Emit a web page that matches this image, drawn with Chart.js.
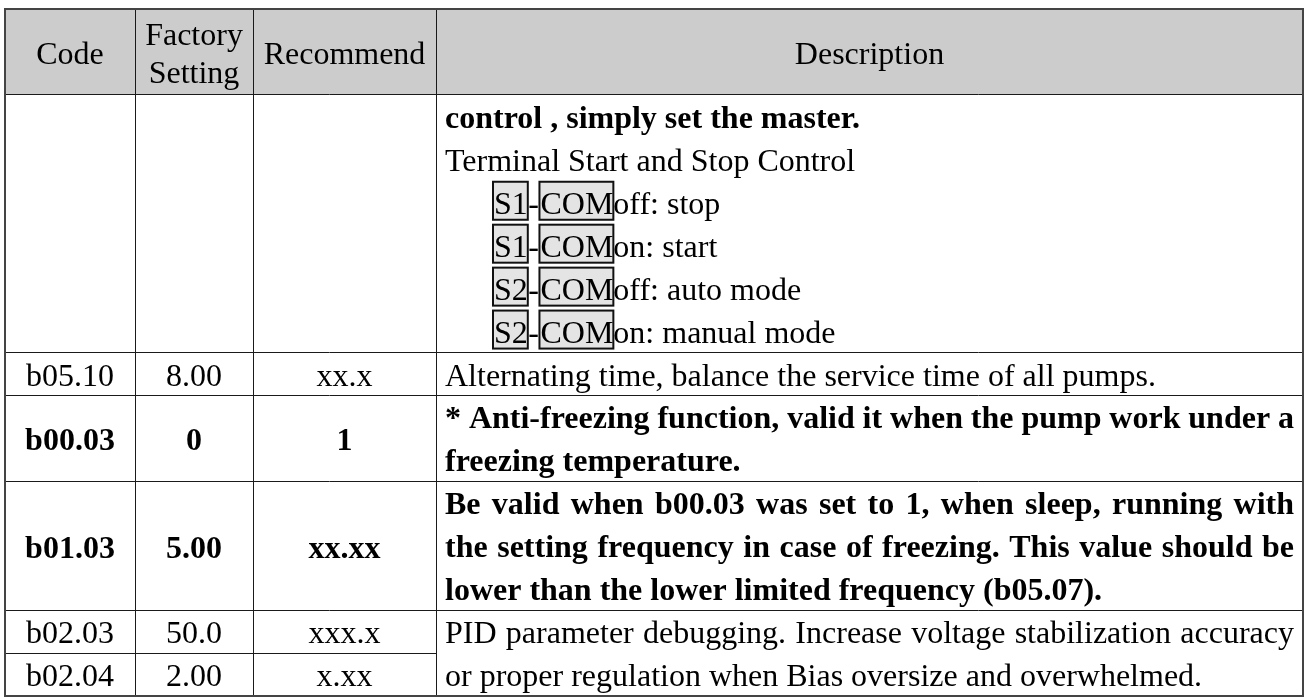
<!DOCTYPE html>
<html>
<head>
<meta charset="utf-8">
<title>Parameter table</title>
<script src="https://cdn.jsdelivr.net/npm/chart.js@4.4.1/dist/chart.umd.min.js"></script>
<style>
  body { margin: 0; background: #fff; }
  #wrap { width: 1307px; height: 697px; }
</style>
</head>
<body>
<div id="wrap"><canvas id="paramTable"></canvas></div>
<script>
// table content
const headers = ['Code', 'Factory\nSetting', 'Recommend', 'Description'];
const codes = ['', 'b05.10', 'b00.03', 'b01.03', 'b02.03', 'b02.04'];
const factorySettings = ['', '8.00', '0', '5.00', '50.0', '2.00'];
const recommends = ['', 'xx.x', '1', 'xx.xx', 'xxx.x', 'x.xx'];
const boldRows = [false, false, true, true, false, false];
const rowLines = [6, 1, 2, 3, 1, 1];
const headerLines = 2;

// description cells; "S1|COM|off: stop" is a terminal line with boxed names
const descriptions = [
    ['control , simply set the master.',
     'Terminal Start and Stop Control',
     'S1|COM|off: stop',
     'S1|COM|on: start',
     'S2|COM|off: auto mode',
     'S2|COM|on: manual mode'],
    ['Alternating time, balance the service time of all pumps.'],
    ['* Anti-freezing function, valid it when the pump work under a',
     'freezing temperature.'],
    ['Be valid when b00.03 was set to 1, when sleep, running with',
     'the setting frequency in case of freezing. This value should be',
     'lower than the lower limited frequency (b05.07).'],
    ['PID parameter debugging. Increase voltage stabilization accuracy',
     'or proper regulation when Bias oversize and overwhelmed.']
];
const descRowSpan = [1, 1, 1, 1, 2];
const descBoldLines = [[0], [], [0, 1], [0, 1, 2], []];

// layout
const colEdges = [0, 130, 248, 431, 1298];
const FONT = '"Liberation Serif", "Times New Roman", serif';
const fontSize = 32;
const padX = 9;
const termIndent = 48;

const rowEdges = [0, headerLines];
rowLines.forEach(n => rowEdges.push(rowEdges[rowEdges.length - 1] + n));
const totalLines = rowEdges[rowEdges.length - 1];

// boundaries hidden by merged description cells
const partialEdges = [];
let r = 0;
descRowSpan.forEach(span => {
    for (let k = 1; k < span; k++) partialEdges.push(rowEdges[1 + r + k]);
    r += span;
});
const fullEdges = rowEdges.filter(v => !partialEdges.includes(v));

function setFont(ctx, bold) {
    ctx.font = (bold ? 'bold ' : '') + fontSize + 'px ' + FONT;
}

function drawJustified(ctx, text, x, baseline, width) {
    const words = text.split(' ');
    const total = words.reduce((s, w) => s + ctx.measureText(w).width, 0);
    const gap = (width - total) / (words.length - 1);
    let cx = x;
    words.forEach(w => {
        ctx.fillText(w, cx, baseline);
        cx += ctx.measureText(w).width + gap;
    });
}

function drawTerminal(ctx, line, x, baseline) {
    const parts = line.split('|');
    let cx = x;
    [parts[0], '-', parts[1]].forEach((p, i) => {
        const w = ctx.measureText(p).width;
        if (i !== 1) {
            ctx.fillStyle = '#e4e4e4';
            ctx.fillRect(cx, baseline - 32, w + 1, 38);
            ctx.strokeStyle = '#111';
            ctx.lineWidth = 2;
            ctx.strokeRect(cx, baseline - 32, w + 1, 38);
            ctx.fillStyle = '#000';
            ctx.fillText(p, cx + 1, baseline);
            cx += w + 1;
        } else {
            ctx.fillText(p, cx + 0.5, baseline);
            cx += w + 1;
        }
    });
    ctx.fillText(parts[2], cx, baseline);
}

const tablePlugin = {
    id: 'tableCells',
    beforeDraw(chart) {
        const { ctx, scales: { x, y } } = chart;
        ctx.save();
        ctx.fillStyle = '#cccccc';
        const left = x.getPixelForValue(colEdges[0]);
        const top = y.getPixelForValue(0);
        ctx.fillRect(left, top, x.getPixelForValue(colEdges[4]) - left, y.getPixelForValue(headerLines) - top);
        ctx.restore();
    },
    afterDraw(chart) {
        const { ctx, scales: { x, y } } = chart;
        ctx.save();

        // lines split only in the left columns
        ctx.strokeStyle = '#1a1a1a';
        ctx.lineWidth = 1;
        partialEdges.forEach(v => {
            const py = Math.round(y.getPixelForValue(v)) + 0.5;
            ctx.beginPath();
            ctx.moveTo(x.getPixelForValue(colEdges[0]), py);
            ctx.lineTo(x.getPixelForValue(colEdges[3]), py);
            ctx.stroke();
        });

        ctx.fillStyle = '#000';
        ctx.textBaseline = 'alphabetic';
        const colCenter = i => (x.getPixelForValue(colEdges[i]) + x.getPixelForValue(colEdges[i + 1])) / 2;
        const lift = fontSize * 0.37;

        // header
        setFont(ctx, false);
        ctx.textAlign = 'center';
        const hMid = (y.getPixelForValue(0) + y.getPixelForValue(headerLines)) / 2;
        headers.forEach((h, i) => {
            const parts = h.split('\n');
            parts.forEach((p, k) => {
                const off = (k - (parts.length - 1) / 2) * 38;
                ctx.fillText(p, colCenter(i), hMid + off + lift);
            });
        });

        // left columns
        [codes, factorySettings, recommends].forEach((col, ci) => {
            col.forEach((val, ri) => {
                if (!val) return;
                setFont(ctx, boldRows[ri]);
                const mid = (y.getPixelForValue(rowEdges[ri + 1]) + y.getPixelForValue(rowEdges[ri + 2])) / 2;
                ctx.fillText(val, colCenter(ci), mid + lift);
            });
        });

        // descriptions
        ctx.textAlign = 'left';
        const textLeft = x.getPixelForValue(colEdges[3]) + padX;
        const textWidth = x.getPixelForValue(colEdges[4]) - padX - textLeft;
        let row = 0;
        descriptions.forEach((lines, bi) => {
            const start = rowEdges[row + 1];
            lines.forEach((line, li) => {
                setFont(ctx, descBoldLines[bi].includes(li));
                const baseline = y.getPixelForValue(start + li) + 33;
                if (line.includes('|')) {
                    drawTerminal(ctx, line, textLeft + termIndent, baseline);
                } else if (li < lines.length - 1 && ctx.measureText(line).width > textWidth * 0.85) {
                    drawJustified(ctx, line, textLeft, baseline, textWidth);
                } else {
                    ctx.fillText(line, textLeft, baseline);
                }
            });
            row += descRowSpan[bi];
        });

        // outer border
        ctx.strokeStyle = '#444';
        ctx.lineWidth = 2;
        const l = x.getPixelForValue(colEdges[0]);
        const t = y.getPixelForValue(0);
        ctx.strokeRect(l, t, x.getPixelForValue(colEdges[4]) - l, y.getPixelForValue(totalLines) - t);
        ctx.restore();
    }
};

new Chart(document.getElementById('paramTable'), {
    type: 'scatter',
    data: { datasets: [] },
    options: {
        responsive: true,
        maintainAspectRatio: false,
        animation: false,
        layout: { padding: { left: 5, right: 4, top: 9, bottom: 1 } },
        plugins: { legend: { display: false }, tooltip: { enabled: false } },
        scales: {
            x: {
                type: 'linear',
                min: colEdges[0],
                max: colEdges[colEdges.length - 1],
                ticks: { display: false },
                grid: { color: '#1a1a1a', lineWidth: 1, drawTicks: false },
                border: { display: false },
                afterBuildTicks: s => { s.ticks = colEdges.map(v => ({ value: v })); }
            },
            y: {
                type: 'linear',
                min: 0,
                max: totalLines,
                reverse: true,
                ticks: { display: false },
                grid: { color: '#1a1a1a', lineWidth: 1, drawTicks: false },
                border: { display: false },
                afterBuildTicks: s => { s.ticks = fullEdges.map(v => ({ value: v })); }
            }
        }
    },
    plugins: [tablePlugin]
});
</script>
</body>
</html>
